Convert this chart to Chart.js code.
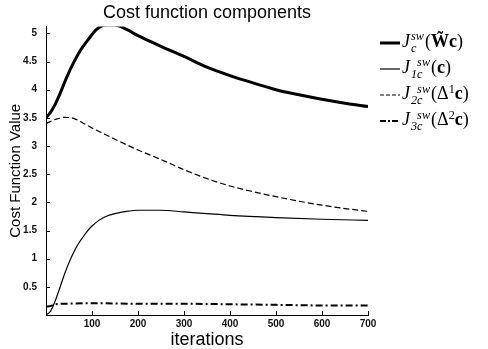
<!DOCTYPE html>
<html lang="en">

<head>
    <meta charset="UTF-8">
    <title>Cost function components</title>
    <script src="https://cdn.jsdelivr.net/npm/chart.js"></script>
    <style>
        body {
            margin: 0;
            background: #fff;
        }

        .wrap {
            position: relative;
            width: 488px;
            height: 349px;
        }

        .legend {
            position: absolute;
            left: 380px;
            top: 30px;
            font-family: "Liberation Serif", "DejaVu Serif", serif;
            font-size: 18px;
            color: #000;
        }

        .row {
            height: 26px;
            display: flex;
            align-items: center;
            white-space: nowrap;
        }

        .row svg {
            margin-right: 2px;
        }

        .math {
            line-height: 1;
        }

        .ss {
            display: inline-block;
            vertical-align: -0.4em;
            font-size: 0.68em;
            line-height: 0.95;
            font-style: italic;
            margin: 0 1px;
        }

        .ss span {
            display: block;
        }

        .up {
            font-size: 0.68em;
            vertical-align: 0.5em;
        }
    </style>
</head>

<body>
    <div class="wrap">
        <canvas id="costChart" width="488" height="349"></canvas>
        <div class="legend">
            <div class="row">
                <svg width="20" height="6"><line x1="0" y1="3" x2="20" y2="3" stroke="#000" stroke-width="3"/></svg>
                <span class="math"><i>J</i><span class="ss"><span>sw</span><span>c</span></span>(<b>W&#771;c</b>)</span>
            </div>
            <div class="row">
                <svg width="20" height="6"><line x1="0" y1="3" x2="20" y2="3" stroke="#000" stroke-width="1.2"/></svg>
                <span class="math"><i>J</i><span class="ss"><span>&nbsp;&nbsp;sw</span><span>1c</span></span>(<b>c</b>)</span>
            </div>
            <div class="row">
                <svg width="20" height="6"><line x1="0" y1="3" x2="20" y2="3" stroke="#000" stroke-width="1.2" stroke-dasharray="4 2"/></svg>
                <span class="math"><i>J</i><span class="ss"><span>&nbsp;&nbsp;sw</span><span>2c</span></span>(&Delta;<span class="up">1</span><b>c</b>)</span>
            </div>
            <div class="row">
                <svg width="20" height="6"><line x1="0" y1="3" x2="20" y2="3" stroke="#000" stroke-width="2" stroke-dasharray="6 2 2 2"/></svg>
                <span class="math"><i>J</i><span class="ss"><span>&nbsp;&nbsp;sw</span><span>3c</span></span>(&Delta;<span class="up">2</span><b>c</b>)</span>
            </div>
        </div>
    </div>

    <script>
        // values
        const iterJ = [0, 10, 20, 30, 45, 60, 75, 90, 110, 130, 150, 175, 200, 250, 300, 350, 400, 450, 500, 550, 600, 650, 700];
        const costJ = [3.50, 3.60, 3.74, 3.92, 4.22, 4.48, 4.70, 4.87, 5.07, 5.15, 5.15, 5.07, 4.96, 4.77, 4.59, 4.40, 4.25, 4.12, 4.00, 3.91, 3.83, 3.76, 3.70];

        const iterJ1 = [0, 10, 20, 30, 40, 50, 60, 70, 80, 90, 100, 115, 130, 150, 175, 200, 250, 300, 350, 400, 500, 600, 700];
        const costJ1 = [0.00, 0.07, 0.25, 0.48, 0.72, 0.93, 1.11, 1.26, 1.38, 1.49, 1.58, 1.68, 1.75, 1.80, 1.84, 1.86, 1.86, 1.83, 1.80, 1.77, 1.73, 1.70, 1.68];

        const iterJ2 = [0, 20, 40, 60, 80, 100, 130, 160, 200, 250, 300, 350, 400, 450, 500, 550, 600, 650, 700];
        const costJ2 = [3.40, 3.47, 3.51, 3.49, 3.41, 3.32, 3.20, 3.08, 2.93, 2.76, 2.58, 2.42, 2.29, 2.19, 2.10, 2.02, 1.95, 1.89, 1.84];

        const iterJ3 = [0, 10, 20, 40, 100, 200, 300, 400, 500, 600, 700];
        const costJ3 = [0.15, 0.16, 0.19, 0.20, 0.21, 0.20, 0.20, 0.19, 0.18, 0.17, 0.17];

        const xTicks = [100, 200, 300, 400, 500, 600, 700];
        const yTicks = [0.5, 1, 1.5, 2, 2.5, 3, 3.5, 4, 4.5, 5];

        function pts(xs, ys) {
            return xs.map((x, i) => ({ x: x, y: ys[i] }));
        }

        function series(label, xs, ys, width, dash) {
            return {
                label: label,
                data: pts(xs, ys),
                borderColor: '#000',
                borderWidth: width,
                borderDash: dash,
                pointRadius: 0,
                fill: false,
                cubicInterpolationMode: 'monotone'
            };
        }

        // small ticks pointing into the plot, like the original
        const innerTicks = {
            id: 'innerTicks',
            afterDraw(chart) {
                const ctx = chart.ctx;
                const x = chart.scales.x, y = chart.scales.y;
                ctx.save();
                ctx.strokeStyle = '#000';
                ctx.lineWidth = 1;
                ctx.beginPath();
                x.ticks.forEach(t => {
                    const px = Math.round(x.getPixelForValue(t.value)) + 0.5;
                    ctx.moveTo(px, y.bottom);
                    ctx.lineTo(px, y.bottom - 4);
                });
                y.ticks.forEach(t => {
                    const py = Math.round(y.getPixelForValue(t.value)) + 0.5;
                    ctx.moveTo(x.left, py);
                    ctx.lineTo(x.left + 4, py);
                });
                ctx.stroke();
                ctx.restore();
            }
        };

        const tickFont = { family: 'Liberation Sans', size: 10, weight: 'bold' };

        new Chart(document.getElementById('costChart'), {
            type: 'line',
            data: {
                datasets: [
                    series('J', iterJ, costJ, 3, []),
                    series('J1', iterJ1, costJ1, 1.2, []),
                    series('J2', iterJ2, costJ2, 1.2, [6, 3]),
                    series('J3', iterJ3, costJ3, 2, [7, 3, 2, 3])
                ]
            },
            options: {
                responsive: false,
                animation: false,
                layout: { padding: { right: 120 } },
                plugins: {
                    legend: { display: false },
                    tooltip: { enabled: false },
                    title: {
                        display: true,
                        text: 'Cost function components',
                        fullSize: false,
                        color: '#000',
                        font: { family: 'Liberation Sans', size: 18, weight: 'normal' },
                        padding: { top: 2, bottom: 3 }
                    }
                },
                scales: {
                    x: {
                        type: 'linear',
                        min: 0,
                        max: 700,
                        afterBuildTicks: s => { s.ticks = xTicks.map(v => ({ value: v })); },
                        afterFit: s => { s.height = 34; },
                        grid: { drawOnChartArea: false, drawTicks: false },
                        border: { color: '#000', width: 1 },
                        ticks: { color: '#111', font: tickFont, padding: 3, maxRotation: 0, callback: v => String(v) },
                        title: {
                            display: true,
                            text: 'iterations',
                            color: '#000',
                            font: { family: 'Liberation Sans', size: 18, lineHeight: 1 },
                            padding: 0
                        }
                    },
                    y: {
                        min: 0,
                        max: 5.12,
                        afterBuildTicks: s => { s.ticks = yTicks.map(v => ({ value: v })); },
                        afterFit: s => { s.width = 46; },
                        grid: { drawOnChartArea: false, drawTicks: false },
                        border: { color: '#000', width: 1 },
                        ticks: { color: '#111', font: tickFont, padding: 9, callback: v => String(v) },
                        title: {
                            display: true,
                            text: 'Cost Function Value',
                            color: '#000',
                            font: { family: 'Liberation Sans', size: 15, lineHeight: 1.2 },
                            padding: { top: 7, bottom: 0 }
                        }
                    }
                }
            },
            plugins: [innerTicks]
        });
    </script>
</body>

</html>
